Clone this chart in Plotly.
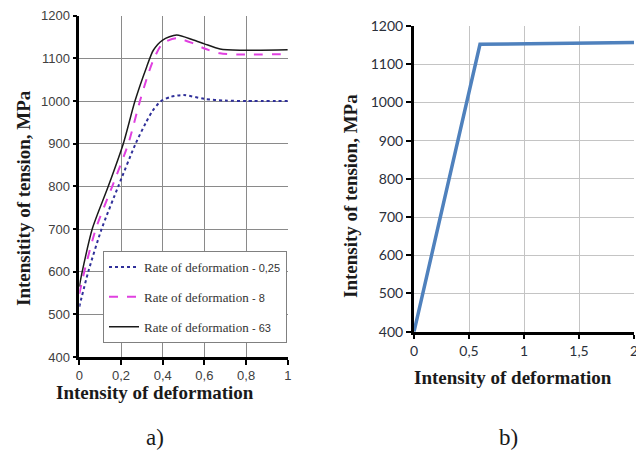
import plotly.graph_objects as go

# ---- data: chart a) ----
x_r025 = [0, 0.043, 0.107, 0.187, 0.27, 0.318, 0.35, 0.39, 0.44, 0.5, 0.6, 0.7, 0.8, 1.0]
y_r025 = [518, 600, 700, 800, 900, 948, 976, 999, 1010, 1014, 1005, 1001, 1000, 1000]

x_r8 = [0, 0.024, 0.079, 0.158, 0.235, 0.291, 0.325, 0.355, 0.4, 0.467, 0.547, 0.6, 0.675, 0.77, 1.0]
y_r8 = [548, 600, 700, 800, 900, 1000, 1055, 1096, 1135, 1147, 1135, 1123, 1112, 1109, 1110]

x_r63 = [0, 0.014, 0.062, 0.139, 0.211, 0.267, 0.323, 0.355, 0.4, 0.467, 0.547, 0.6, 0.675, 0.77, 1.0]
y_r63 = [565, 600, 700, 800, 900, 1000, 1080, 1119, 1143, 1155, 1143, 1134, 1122, 1119, 1120]

names_a = ["Rate of deformation", "Rate of deformation", "Rate of deformation"]
rates_a = ["- 0,25", "- 8", "- 63"]

xa_tickvals = [0, 0.2, 0.4, 0.6, 0.8, 1]
xa_ticktext = ["0", "0,2", "0,4", "0,6", "0,8", "1"]
ya_tickvals = [400, 500, 600, 700, 800, 900, 1000, 1100, 1200]
ya_ticktext = ["400", "500", "600", "700", "800", "900", "1000", "1100", "1200"]

# ---- data: chart b) ----
x_b = [0, 0.6, 2]
y_b = [400, 1152, 1157]

xb_tickvals = [0, 0.5, 1, 1.5, 2]
xb_ticktext = ["0", "0,5", "1", "1,5", "2"]
yb_tickvals = ya_tickvals
yb_ticktext = ya_ticktext

W, H = 644, 453
OFF = 8  # page body margin

def fx(px):
    return (px - OFF) / W

def fy(py):
    return 1 - (py - OFF) / H

fig = go.Figure()

styles = [
    dict(color="#30309a", width=2, dash="dot"),
    dict(color="#e040e0", width=2, dash="dash"),
    dict(color="#1a1a1a", width=1.5, dash="solid"),
]
series = [(x_r025, y_r025), (x_r8, y_r8), (x_r63, y_r63)]
for i, ((xs, ys), st) in enumerate(zip(series, styles)):
    fig.add_trace(go.Scatter(
        x=xs, y=ys, mode="lines", line=dict(shape="spline", smoothing=0.7, **st),
        name=f"{names_a[i]} <span style='font-family:Liberation Sans;font-size:11px'>{rates_a[i]}</span>",
        legendgroup=f"g{i}", xaxis="x", yaxis="y",
    ))

fig.add_trace(go.Scatter(
    x=x_b, y=y_b, mode="lines", line=dict(color="#4f81bd", width=3.5),
    showlegend=False, xaxis="x2", yaxis="y2",
))

tickfont_a = dict(family="Liberation Sans", size=13, color="#404040")
tickfont_b = dict(family="Lato", size=14, color="#2a2f3a")

common = dict(showgrid=True, gridwidth=1, showline=True, linecolor="black",
              ticks="outside", tickcolor="black", tickwidth=1.5,
              zeroline=False, fixedrange=True, automargin=False)

fig.update_layout(
    width=W, height=H,
    margin=dict(l=0, r=0, t=0, b=0),
    paper_bgcolor="white", plot_bgcolor="white",
    xaxis=dict(domain=[fx(79.3), fx(287.8)], range=[0, 1], anchor="y",
               tickvals=xa_tickvals, ticktext=xa_ticktext, tickfont=tickfont_a,
               gridcolor="#8a8a8a", linewidth=2.5, ticklen=5, **common),
    yaxis=dict(domain=[fy(357), fy(15.7)], range=[400, 1200], anchor="x",
               tickvals=ya_tickvals, ticktext=ya_ticktext, tickfont=tickfont_a,
               gridcolor="#8a8a8a", linewidth=2.5, ticklen=4, **common),
    xaxis2=dict(domain=[fx(414), fx(634)], range=[0, 2], anchor="y2",
                tickvals=xb_tickvals, ticktext=xb_ticktext, tickfont=tickfont_b,
                gridcolor="#c4c4c4", linewidth=3, ticklen=4, **common),
    yaxis2=dict(domain=[fy(331.7), fy(26)], range=[400, 1200], anchor="x2",
                tickvals=yb_tickvals, ticktext=yb_ticktext, tickfont=tickfont_b,
                gridcolor="#c4c4c4", linewidth=3, ticklen=5, **common),
    legend=dict(x=fx(103), y=fy(251), xanchor="left", yanchor="top",
                bgcolor="white", bordercolor="#808080", borderwidth=1,
                font=dict(family="Liberation Serif", size=13, color="#333333"),
                tracegroupgap=10, itemwidth=30),
    showlegend=True,
)

title_font = dict(family="Liberation Serif", size=19, color="#1a1a1a", weight="bold")
ann = [
    dict(text="Intensity of deformation", x=fx(155), y=fy(392), font=title_font),
    dict(text="Intensitity of tension, MPa", x=fx(24), y=fy(198), font=title_font, textangle=-90),
    dict(text="Intensity of deformation", x=fx(513), y=fy(377), font=title_font),
    dict(text="Intensity of tension, MPa", x=fx(350), y=fy(196), font=title_font, textangle=-90),
    dict(text="a)", x=fx(155), y=fy(437), font=dict(family="Liberation Serif", size=23, color="#1a1a1a")),
    dict(text="b)", x=fx(508), y=fy(437), font=dict(family="Liberation Serif", size=23, color="#1a1a1a")),
]
for a in ann:
    fig.add_annotation(xref="paper", yref="paper", showarrow=False,
                       xanchor="center", yanchor="middle", **a)

fig.write_html("out.html")
